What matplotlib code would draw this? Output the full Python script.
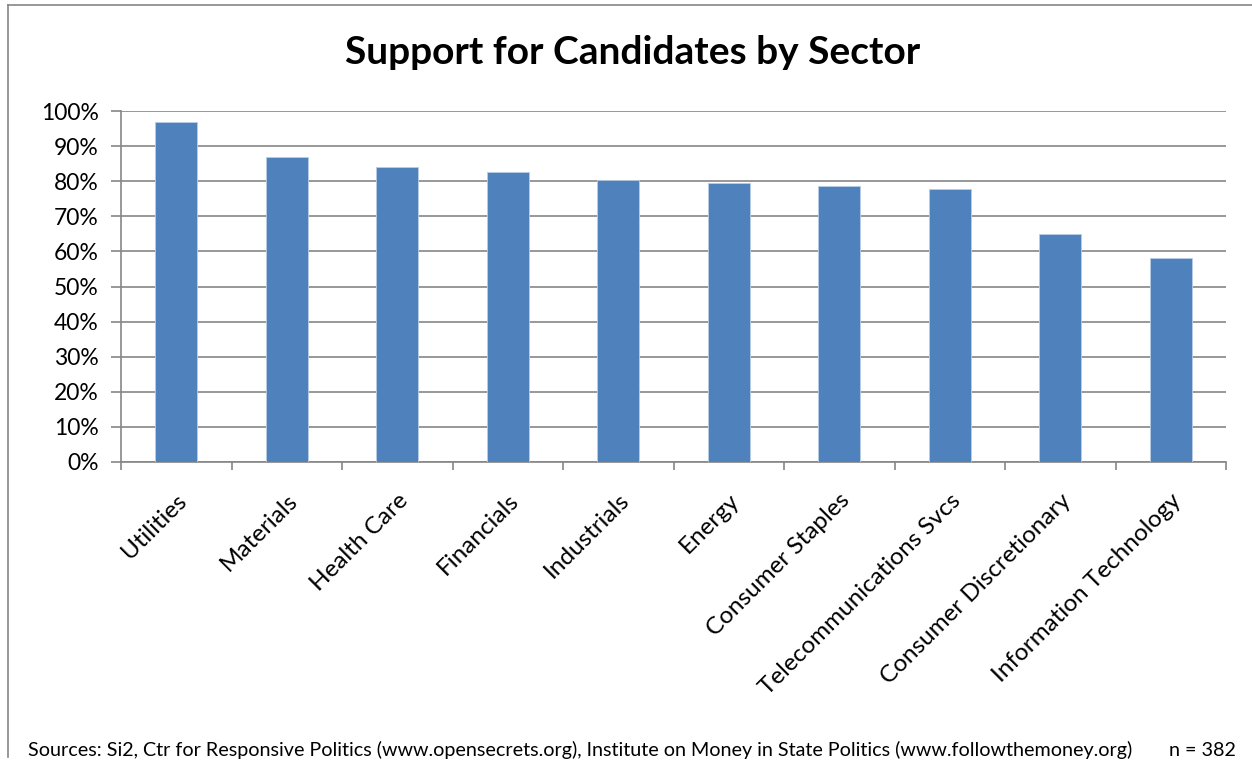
import matplotlib
matplotlib.use("Agg")
import matplotlib.pyplot as plt
from matplotlib.lines import Line2D
from matplotlib.ticker import FixedLocator, PercentFormatter
import numpy as np

plt.rcParams.update({
    "font.family": ["Lato", "DejaVu Sans"],
    "axes.edgecolor": "#868686",
    "axes.linewidth": 1.2,
})

sectors = ["Utilities", "Materials", "Health Care", "Financials", "Industrials",
           "Energy", "Consumer Staples", "Telecommunications Svcs",
           "Consumer Discretionary", "Information Technology"]
support = [97.0, 86.8, 84.0, 82.5, 80.4, 79.4, 78.6, 77.9, 65.0, 58.2]

BAR_BLUE = "#4F81BD"
GRID = "#868686"

fig = plt.figure(figsize=(12.52, 7.70), dpi=100)
ax = fig.add_axes([121 / 1252, 1 - 462 / 770, 1105 / 1252, 351 / 770])

x = np.arange(len(sectors))
ax.bar(x, support, width=0.38, color=BAR_BLUE, edgecolor="#B9CDE5", linewidth=0.6, zorder=3)

ax.set_xlim(-0.5, len(sectors) - 0.5)
ax.set_ylim(0, 100)
ax.yaxis.set_major_locator(FixedLocator(np.arange(0, 101, 10)))
ax.yaxis.set_major_formatter(PercentFormatter(decimals=0))
ax.yaxis.grid(True, color=GRID, linewidth=1.2, zorder=0)

ax.spines["top"].set_visible(False)
ax.spines["right"].set_visible(False)

# category ticks sit on the boundaries between bars
ax.set_xticks(np.arange(-0.5, len(sectors), 1.0))
ax.set_xticklabels([])
ax.set_xticks(x, minor=True)
ax.set_xticklabels(sectors, minor=True, rotation=45, ha="right", rotation_mode="anchor",
                   fontsize=17.5)
ax.tick_params(axis="x", which="major", length=6, width=1.2, color=GRID, direction="out")
ax.tick_params(axis="x", which="minor", length=0, pad=20)
ax.tick_params(axis="y", length=7, width=1.2, color=GRID, direction="out", labelsize=16.5, pad=9)
for lbl in ax.get_xticklabels(minor=True):
    lbl.set_transform(lbl.get_transform() + matplotlib.transforms.ScaledTranslation(0.0, 0, fig.dpi_scale_trans))

fig.text(0.505, 1 - 52 / 770, "Support for Candidates by Sector", ha="center", va="center",
         fontsize=28, fontweight="bold")
fig.text(28 / 1252, 1 - 750 / 770,
         "Sources: Si2, Ctr for Responsive Politics (www.opensecrets.org), "
         "Institute on Money in State Politics (www.followthemoney.org)",
         ha="left", va="center", fontsize=14.2)
fig.text(1236 / 1252, 1 - 750 / 770, "n = 382", ha="right", va="center", fontsize=14.2)

# chart-area frame
fig.add_artist(Line2D([8 / 1252, 8 / 1252], [1 - 5 / 770, 1 - 757 / 770], color=GRID, lw=1.2,
                      transform=fig.transFigure))
fig.add_artist(Line2D([8 / 1252, 1.0], [1 - 5 / 770, 1 - 5 / 770], color=GRID, lw=1.2,
                      transform=fig.transFigure))

fig.savefig("out.png", dpi=100)
